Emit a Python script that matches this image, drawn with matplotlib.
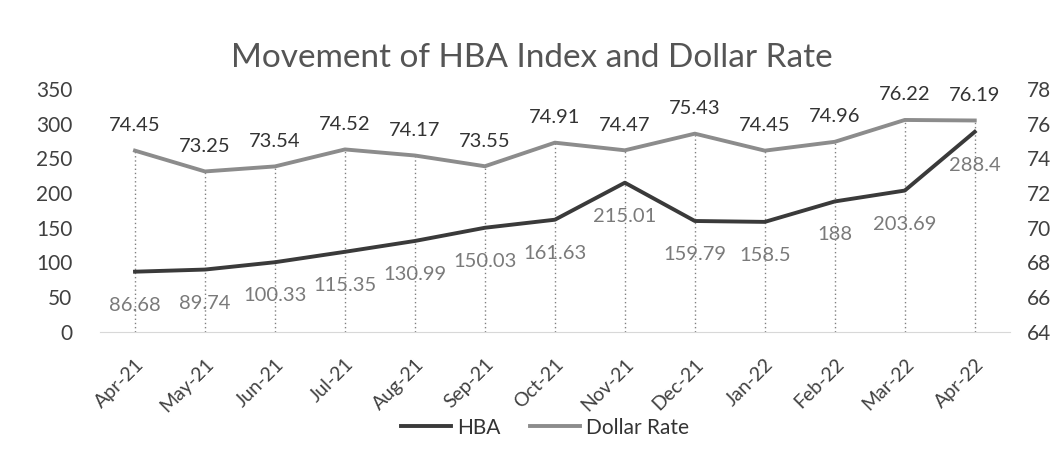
import matplotlib.pyplot as plt

months = ['Apr-21', 'May-21', 'Jun-21', 'Jul-21', 'Aug-21', 'Sep-21', 'Oct-21',
          'Nov-21', 'Dec-21', 'Jan-22', 'Feb-22', 'Mar-22', 'Apr-22']
hba = [86.68, 89.74, 100.33, 115.35, 130.99, 150.03, 161.63,
       215.01, 159.79, 158.5, 188, 203.69, 288.4]
dollar = [74.45, 73.25, 73.54, 74.52, 74.17, 73.55, 74.91,
          74.47, 75.43, 74.45, 74.96, 76.22, 76.19]

plt.rcParams['font.family'] = ['Lato', 'DejaVu Sans']

fig = plt.figure(figsize=(10.64, 4.57), dpi=100)
ax = fig.add_axes([0.094, 0.274, 0.855, 0.531])
ax2 = ax.twinx()

x = list(range(len(months)))

# drop lines from the higher series down to the axis
for i, v in enumerate(dollar):
    top = (v - 64) / 14 * 350
    ax.plot([i, i], [0, top], color='#808080', lw=1.0, ls=(0, (1, 2)), zorder=1)

ax.plot(x, hba, color='#3a3a3a', lw=2.8, label='HBA', zorder=3)
ax2.plot(x, dollar, color='#8c8c8c', lw=2.8, label='Dollar Rate', zorder=3)

for i, v in enumerate(hba):
    ax.annotate(f'{v:g}', (i, v), xytext=(0, -18), textcoords='offset points',
                ha='center', va='top', fontsize=14.5, color='#7a7a7a')
for i, v in enumerate(dollar):
    ax2.annotate(f'{v:.2f}', (i, v), xytext=(0, 12), textcoords='offset points',
                 ha='center', va='bottom', fontsize=14.5, color='#333333')

ax.set_xlim(-0.5, 12.5)
ax.set_ylim(0, 350)
ax.set_yticks(range(0, 351, 50))
ax2.set_ylim(64, 78)
ax2.set_yticks(range(64, 79, 2))

ax.set_xticks(x)
ax.set_xticklabels(months, rotation=45, ha='right', rotation_mode='anchor')

for a in (ax, ax2):
    for s in a.spines.values():
        s.set_visible(False)
    a.tick_params(length=0, labelsize=15, colors='#404040')
ax.spines['bottom'].set_visible(True)
ax.spines['bottom'].set_color('#d8d8d8')
ax.tick_params(axis='y', pad=20)
ax2.tick_params(axis='y', pad=12)
ax.tick_params(axis='x', pad=17, labelsize=14)

fig.suptitle('Movement of HBA Index and Dollar Rate', y=0.873, va='center',
             fontsize=24, color='#555555')

h1, l1 = ax.get_legend_handles_labels()
h2, l2 = ax2.get_legend_handles_labels()
fig.legend(h1 + h2, l1 + l2, loc='center', bbox_to_anchor=(0.512, 0.064), ncol=2,
           frameon=False, fontsize=15, handlelength=2.4, handletextpad=0.3,
           columnspacing=1.4, labelcolor='#333333')

fig.savefig('out.png', dpi=100)
